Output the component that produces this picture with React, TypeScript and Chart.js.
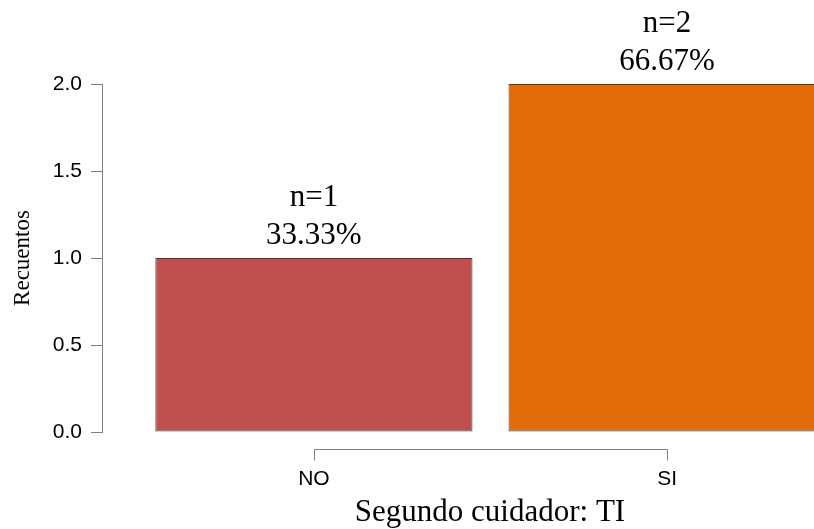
import React, { useEffect, useRef } from "react";
import { Chart, registerables } from "chart.js";

Chart.register(...registerables);

const categories = ["NO", "SI"];
const counts = [1, 2];
const barColors = ["#C0504D", "#E36C0A"];
const yTicks = [0, 0.5, 1, 1.5, 2];
const yTitle = "Recuentos";
const xTitle = "Segundo cuidador: TI";

const SERIF = "'Liberation Serif', 'Times New Roman', serif";
const SANS = "'Liberation Sans', Arial, sans-serif";
const AXIS = "#7f7f7f";

export default function App() {
  const ref = useRef<HTMLCanvasElement | null>(null);

  useEffect(() => {
    const canvas = ref.current;
    if (!canvas) return;
    const total = counts.reduce((a, b) => a + b, 0);

    const labelPlugin = {
      id: "rLabels",
      afterDatasetsDraw(chart: any) {
        const ctx = chart.ctx;
        const meta = chart.getDatasetMeta(0);
        ctx.save();
        ctx.fillStyle = "#000";
        ctx.textAlign = "center";
        ctx.textBaseline = "alphabetic";
        ctx.font = `31px ${SERIF}`;
        meta.data.forEach((bar: any, i: number) => {
          const pct = ((counts[i] / total) * 100).toFixed(2) + "%";
          ctx.fillText(pct, bar.x, bar.y - 14);
          ctx.fillText("n=" + counts[i], bar.x, bar.y - 52);
        });

        // R-style x axis bracket
        const xs = chart.scales.x;
        const area = chart.chartArea;
        const x0 = xs.getPixelForValue(0);
        const x1 = xs.getPixelForValue(categories.length - 1);
        const yLine = area.bottom + 17.5;
        ctx.strokeStyle = AXIS;
        ctx.lineWidth = 1;
        ctx.beginPath();
        ctx.moveTo(Math.round(x0) + 0.5, yLine + 11);
        ctx.lineTo(Math.round(x0) + 0.5, yLine);
        ctx.lineTo(Math.round(x1) + 0.5, yLine);
        ctx.lineTo(Math.round(x1) + 0.5, yLine + 11);
        ctx.stroke();

        ctx.font = `21px ${SANS}`;
        categories.forEach((c, i) => {
          ctx.fillText(c, xs.getPixelForValue(i), area.bottom + 53);
        });

        ctx.font = `31px ${SERIF}`;
        ctx.fillText(xTitle, 490, area.bottom + 89);
        ctx.restore();
      },
    };

    const chart = new Chart(canvas, {
      type: "bar",
      data: {
        datasets: [
          {
            data: counts.map((v, i) => ({ x: i, y: v })),
            backgroundColor: barColors,
            borderColor: "#3c3c3c",
            borderWidth: 1,
            borderSkipped: false,
            categoryPercentage: 1,
            barPercentage: 0.898,
          },
        ],
      },
      options: {
        responsive: false,
        animation: false,
        layout: { padding: { top: 84, bottom: 97, left: 0, right: 0 } },
        plugins: {
          legend: { display: false },
          tooltip: { enabled: false },
          title: { display: false },
        },
        scales: {
          x: {
            type: "linear",
            display: false,
            offset: false,
            min: -0.6,
            max: 1.6,
            afterBuildTicks: (s: any) => {
              s.ticks = categories.map((_, i) => ({ value: i }));
            },
          },
          y: {
            type: "linear",
            min: 0,
            max: 2,
            afterBuildTicks: (s: any) => {
              s.ticks = yTicks.map((v) => ({ value: v }));
            },
            afterFit: (s: any) => {
              s.width = 102;
            },
            border: { display: true, color: AXIS, width: 1 },
            grid: {
              drawOnChartArea: false,
              drawTicks: true,
              tickLength: 11,
              color: AXIS,
            },
            ticks: {
              color: "#000",
              padding: 9,
              font: { family: SANS, size: 21 },
              callback: (v: any) => Number(v).toFixed(1),
            },
            title: {
              display: true,
              text: yTitle,
              color: "#000",
              font: { family: SERIF, size: 23 },
              padding: { top: 9, bottom: 0 },
            },
          },
        },
      },
      plugins: [labelPlugin],
    });

    return () => chart.destroy();
  }, []);

  return (
    <div
      style={{
        position: "fixed",
        left: 0,
        top: 0,
        width: 814,
        height: 529,
        overflow: "hidden",
        background: "#fff",
      }}
    >
      <canvas ref={ref} width={879} height={529} style={{ display: "block" }} />
    </div>
  );
}
